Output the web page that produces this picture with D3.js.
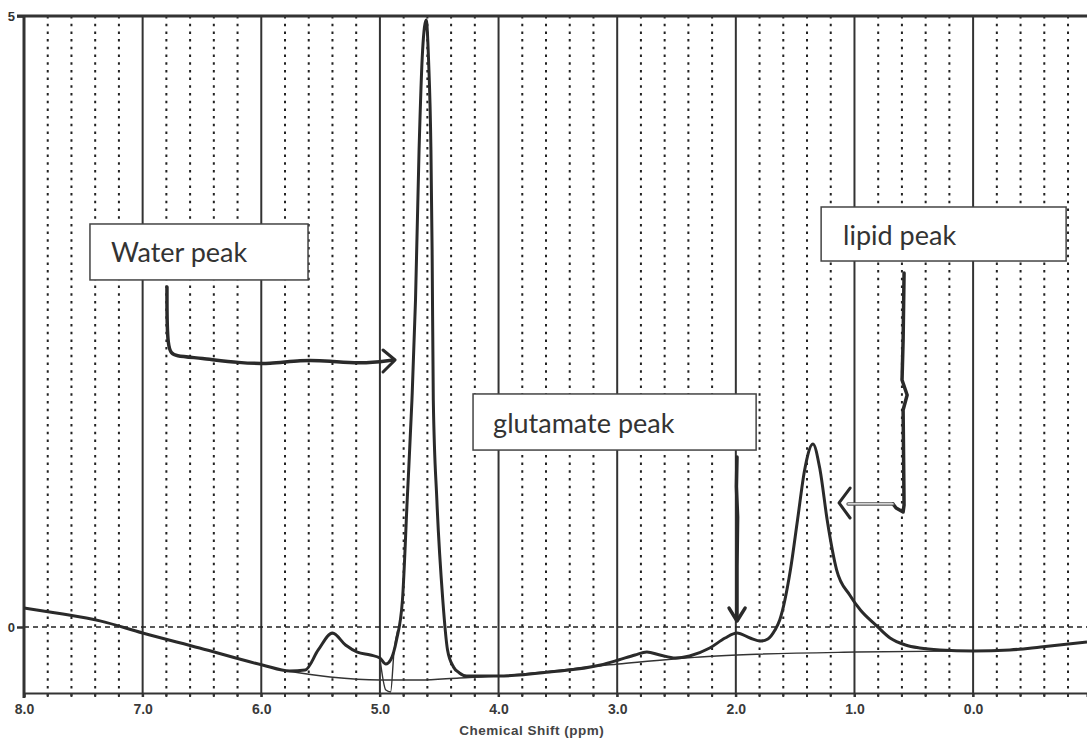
<!DOCTYPE html>
<html>
<head>
<meta charset="utf-8">
<script src="https://cdn.jsdelivr.net/npm/d3@7"></script>
<style>
  html, body { margin: 0; padding: 0; background: #fff; overflow: hidden; }
  svg { display: block; }
</style>
</head>
<body>
<svg id="chart" width="1087" height="741"></svg>
<script>
// ---------------- data ----------------
const xDomain = [8.0, -0.96];
const yDomain = [0, 5];
const majorTicks = [8, 7, 6, 5, 4, 3, 2, 1, 0];
const majorTickLabels = ["8.0", "7.0", "6.0", "5.0", "4.0", "3.0", "2.0", "1.0", "0.0"];
const minorStep = 0.2;
const yTicks = [0, 5];
const yTickLabels = ["0", "5"];
const xTitle = "Chemical Shift (ppm)";

// spectrum (ppm, intensity)
const spectrumPpm = [8.00, 7.70, 7.36, 7.00, 6.52, 5.99, 5.76, 5.63, 5.52, 5.40, 5.29, 5.19, 5.08, 5.00, 4.95, 4.91,
  4.86, 4.81, 4.77, 4.73, 4.70, 4.67, 4.64, 4.61, 4.59, 4.57, 4.56, 4.55, 4.52, 4.47, 4.43, 4.38, 4.33, 4.27,
  4.00, 3.57, 3.14, 2.99, 2.85, 2.75, 2.64, 2.51, 2.39, 2.22, 2.09, 1.99, 1.88, 1.79, 1.73, 1.67, 1.63,
  1.54, 1.48, 1.42, 1.35, 1.29, 1.23, 1.15, 1.04, 0.95, 0.82, 0.70, 0.57, 0.45, 0.28, 0.00, -0.31, -0.57, -0.96];
const spectrumVal = [0.155, 0.110, 0.050, -0.049, -0.172, -0.311, -0.360, -0.352, -0.188, -0.049, -0.147, -0.205, -0.229, -0.254, -0.303, -0.270,
  -0.106, 0.221, 1.039, 1.858, 2.676, 3.903, 4.722, 4.967, 4.640, 3.903, 3.085, 1.858, 1.039, 0.221, -0.188, -0.327, -0.376, -0.401,
  -0.401, -0.368, -0.311, -0.270, -0.229, -0.205, -0.229, -0.254, -0.237, -0.172, -0.090, -0.049, -0.090, -0.115, -0.098, -0.025, 0.057,
  0.466, 0.876, 1.285, 1.498, 1.285, 0.876, 0.466, 0.262, 0.139, 0.016, -0.090, -0.147, -0.172, -0.188, -0.196, -0.188, -0.164, -0.123];

// fitted baseline (thin)
const baselinePpm = [5.78, 5.42, 5.00, 4.66, 4.33, 4.00, 2.99, 2.30, 1.99, 0.99, 0.00];
const baselineVal = [-0.360, -0.409, -0.434, -0.434, -0.417, -0.401, -0.303, -0.245, -0.229, -0.205, -0.196];

// thin residual dip under the water peak
const dipPpm = [5.00, 4.95, 4.91, 4.88, 4.85];
const dipVal = [-0.254, -0.516, -0.532, -0.188, -0.025];

// annotation labels
const labelTexts = ["Water peak", "glutamate peak", "lipid peak"];
const labelBoxX0 = [7.444, 4.215, 1.281];
const labelBoxX1 = [5.606, 1.829, -0.784];
const labelBoxY0 = [3.298, 1.907, 3.437];
const labelBoxY1 = [2.840, 1.448, 2.995];
const labelTextX = [7.267, 4.046, 1.096];
const labelTextY = [2.987, 1.588, 3.126];

// hand-drawn arrows
const waterArrowPpm = [6.795, 6.795, 6.727, 6.516, 6.179, 5.926, 5.673, 5.420, 5.168, 4.889];
const waterArrowVal = [2.782, 2.250, 2.218, 2.201, 2.160, 2.152, 2.185, 2.177, 2.152, 2.185];
const waterHeadPpm = [4.974, 4.872, 4.974];
const waterHeadVal = [2.267, 2.185, 2.087];

const gluArrowPpm = [1.990, 1.995, 1.985, 1.990, 1.990];
const gluArrowVal = [1.391, 1.150, 0.900, 0.500, 0.057];
const gluHeadPpm = [2.057, 1.990, 1.922];
const gluHeadVal = [0.155, 0.049, 0.155];

const lipidArrowPpm = [0.582, 0.590, 0.599, 0.556, 0.590, 0.582, 0.590, 0.649, 0.675];
const lipidArrowVal = [2.897, 2.349, 2.021, 1.899, 1.776, 0.998, 0.941, 0.974, 1.007];
const lipidShaftPpm = [0.675, 1.054];
const lipidShaftVal = [1.007, 1.007];
const lipidHeadPpm = [1.037, 1.130, 1.037];
const lipidHeadVal = [1.137, 1.015, 0.892];

// ---------------- drawing ----------------
const plotLeft = 24, plotRight = 1087, plotTop = 16, plotBottom = 693;
const svg = d3.select("#chart");

const x = d3.scaleLinear().domain(xDomain).range([plotLeft, plotRight]);
const y = d3.scaleLinear().domain(yDomain).range([627, plotTop]);

const zip = (a, b) => a.map((v, i) => [v, b[i]]);

// minor dotted grid
const minorVals = d3.range(Math.round(xDomain[1] / minorStep) * minorStep, xDomain[0] + 1e-9, minorStep)
  .map(v => Math.round(v * 10) / 10)
  .filter(v => Math.abs(v - Math.round(v)) > 1e-6 && v > xDomain[1] && v < xDomain[0]);

const grid = svg.append("g");
grid.selectAll("line.minor").data(minorVals).enter().append("line")
  .attr("class", "minor")
  .attr("x1", d => x(d)).attr("x2", d => x(d))
  .attr("y1", plotTop).attr("y2", plotBottom + 4)
  .attr("stroke", "#222").attr("stroke-width", 2)
  .attr("stroke-dasharray", "2.5,5.2");

// major solid grid
grid.selectAll("line.major").data(majorTicks.filter(d => d !== 8)).enter().append("line")
  .attr("class", "major")
  .attr("x1", d => x(d)).attr("x2", d => x(d))
  .attr("y1", plotTop).attr("y2", plotBottom + 4)
  .attr("stroke", "#333").attr("stroke-width", 2);

// horizontal dashed zero line
grid.append("line")
  .attr("x1", plotLeft).attr("x2", plotRight)
  .attr("y1", y(0)).attr("y2", y(0))
  .attr("stroke", "#222").attr("stroke-width", 1.5)
  .attr("stroke-dasharray", "5,4");

// axes frame
svg.append("line").attr("x1", 17).attr("x2", plotRight).attr("y1", plotTop).attr("y2", plotTop)
  .attr("stroke", "#333").attr("stroke-width", 3);
svg.append("line").attr("x1", plotLeft).attr("x2", plotLeft).attr("y1", plotTop - 1).attr("y2", plotBottom + 5)
  .attr("stroke", "#333").attr("stroke-width", 3);

// bottom axis via d3.axisBottom
const xAxis = d3.axisBottom(x)
  .tickValues(majorTicks)
  .tickFormat((d, i) => majorTickLabels[i])
  .tickSize(4).tickPadding(7);
const gx = svg.append("g").attr("transform", `translate(0,${plotBottom})`).call(xAxis);
gx.select(".domain").attr("stroke", "#333").attr("stroke-width", 2);
gx.selectAll(".tick line").attr("stroke", "#333").attr("stroke-width", 2);
gx.selectAll(".tick text")
  .attr("font-family", "Liberation Sans, Arial, sans-serif")
  .attr("font-size", 14).attr("font-weight", "bold").attr("fill", "#3a3a3a");

// minor ticks on bottom axis
svg.append("g").selectAll("line").data(minorVals).enter().append("line")
  .attr("x1", d => x(d)).attr("x2", d => x(d))
  .attr("y1", plotBottom).attr("y2", plotBottom + 4)
  .attr("stroke", "#333").attr("stroke-width", 2);

// y axis ticks
const yAxis = d3.axisLeft(y).tickValues(yTicks).tickFormat((d, i) => yTickLabels[i]).tickSize(7).tickPadding(2);
const gy = svg.append("g").attr("transform", `translate(${plotLeft},0)`).call(yAxis);
gy.select(".domain").remove();
gy.selectAll(".tick line").attr("stroke", "#333").attr("stroke-width", 2.5);
gy.selectAll(".tick text")
  .attr("font-family", "Liberation Sans, Arial, sans-serif")
  .attr("font-size", 13).attr("font-weight", "bold").attr("fill", "#333");

// x title
svg.append("text")
  .attr("x", x(3.72)).attr("y", 735)
  .attr("text-anchor", "middle")
  .attr("font-family", "Liberation Sans, Arial, sans-serif")
  .attr("font-size", 13.5).attr("font-weight", "bold").attr("fill", "#444")
  .attr("letter-spacing", 0.5)
  .text(xTitle);

// curves
const line = d3.line().x(d => x(d[0])).y(d => y(d[1])).curve(d3.curveMonotoneX);
const lineLin = d3.line().x(d => x(d[0])).y(d => y(d[1])).curve(d3.curveLinear);

svg.append("path").datum(zip(baselinePpm, baselineVal))
  .attr("d", line).attr("fill", "none").attr("stroke", "#333").attr("stroke-width", 1.4);
svg.append("path").datum(zip(dipPpm, dipVal))
  .attr("d", line).attr("fill", "none").attr("stroke", "#333").attr("stroke-width", 1.4);
svg.append("path").datum(zip(spectrumPpm, spectrumVal))
  .attr("d", line).attr("fill", "none").attr("stroke", "#2a2a2a").attr("stroke-width", 3)
  .attr("stroke-linejoin", "round");

// annotation boxes
const ann = svg.append("g");
labelTexts.forEach((t, i) => {
  ann.append("rect")
    .attr("x", x(labelBoxX0[i])).attr("y", y(labelBoxY0[i]))
    .attr("width", x(labelBoxX1[i]) - x(labelBoxX0[i]))
    .attr("height", y(labelBoxY1[i]) - y(labelBoxY0[i]))
    .attr("fill", "#fff").attr("stroke", "#444").attr("stroke-width", 1.5);
  ann.append("text")
    .attr("x", x(labelTextX[i])).attr("y", y(labelTextY[i]))
    .attr("font-family", "Lato, 'Open Sans', sans-serif")
    .attr("font-size", 27).attr("fill", "#333")
    .text(t);
});

// arrows
const arrows = svg.append("g").attr("fill", "none").attr("stroke-linecap", "round").attr("stroke-linejoin", "round");
arrows.append("path").datum(zip(waterArrowPpm, waterArrowVal))
  .attr("d", d3.line().x(d => x(d[0])).y(d => y(d[1])).curve(d3.curveBasis))
  .attr("stroke", "#2a2a2a").attr("stroke-width", 3.5);
arrows.append("path").datum(zip(waterHeadPpm, waterHeadVal))
  .attr("d", lineLin).attr("stroke", "#2a2a2a").attr("stroke-width", 3);

arrows.append("path").datum(zip(gluArrowPpm, gluArrowVal))
  .attr("d", lineLin).attr("stroke", "#2a2a2a").attr("stroke-width", 3.5);
arrows.append("path").datum(zip(gluHeadPpm, gluHeadVal))
  .attr("d", lineLin).attr("stroke", "#2a2a2a").attr("stroke-width", 3.5);

arrows.append("path").datum(zip(lipidArrowPpm, lipidArrowVal))
  .attr("d", lineLin).attr("stroke", "#2a2a2a").attr("stroke-width", 3.5);
arrows.append("path").datum(zip(lipidShaftPpm, lipidShaftVal))
  .attr("d", lineLin).attr("stroke", "#555").attr("stroke-width", 3.5);
arrows.append("path").datum(zip(lipidShaftPpm, lipidShaftVal))
  .attr("d", lineLin).attr("stroke", "#fff").attr("stroke-width", 1.2);
arrows.append("path").datum(zip(lipidHeadPpm, lipidHeadVal))
  .attr("d", lineLin).attr("stroke", "#2a2a2a").attr("stroke-width", 3);
</script>
</body>
</html>
